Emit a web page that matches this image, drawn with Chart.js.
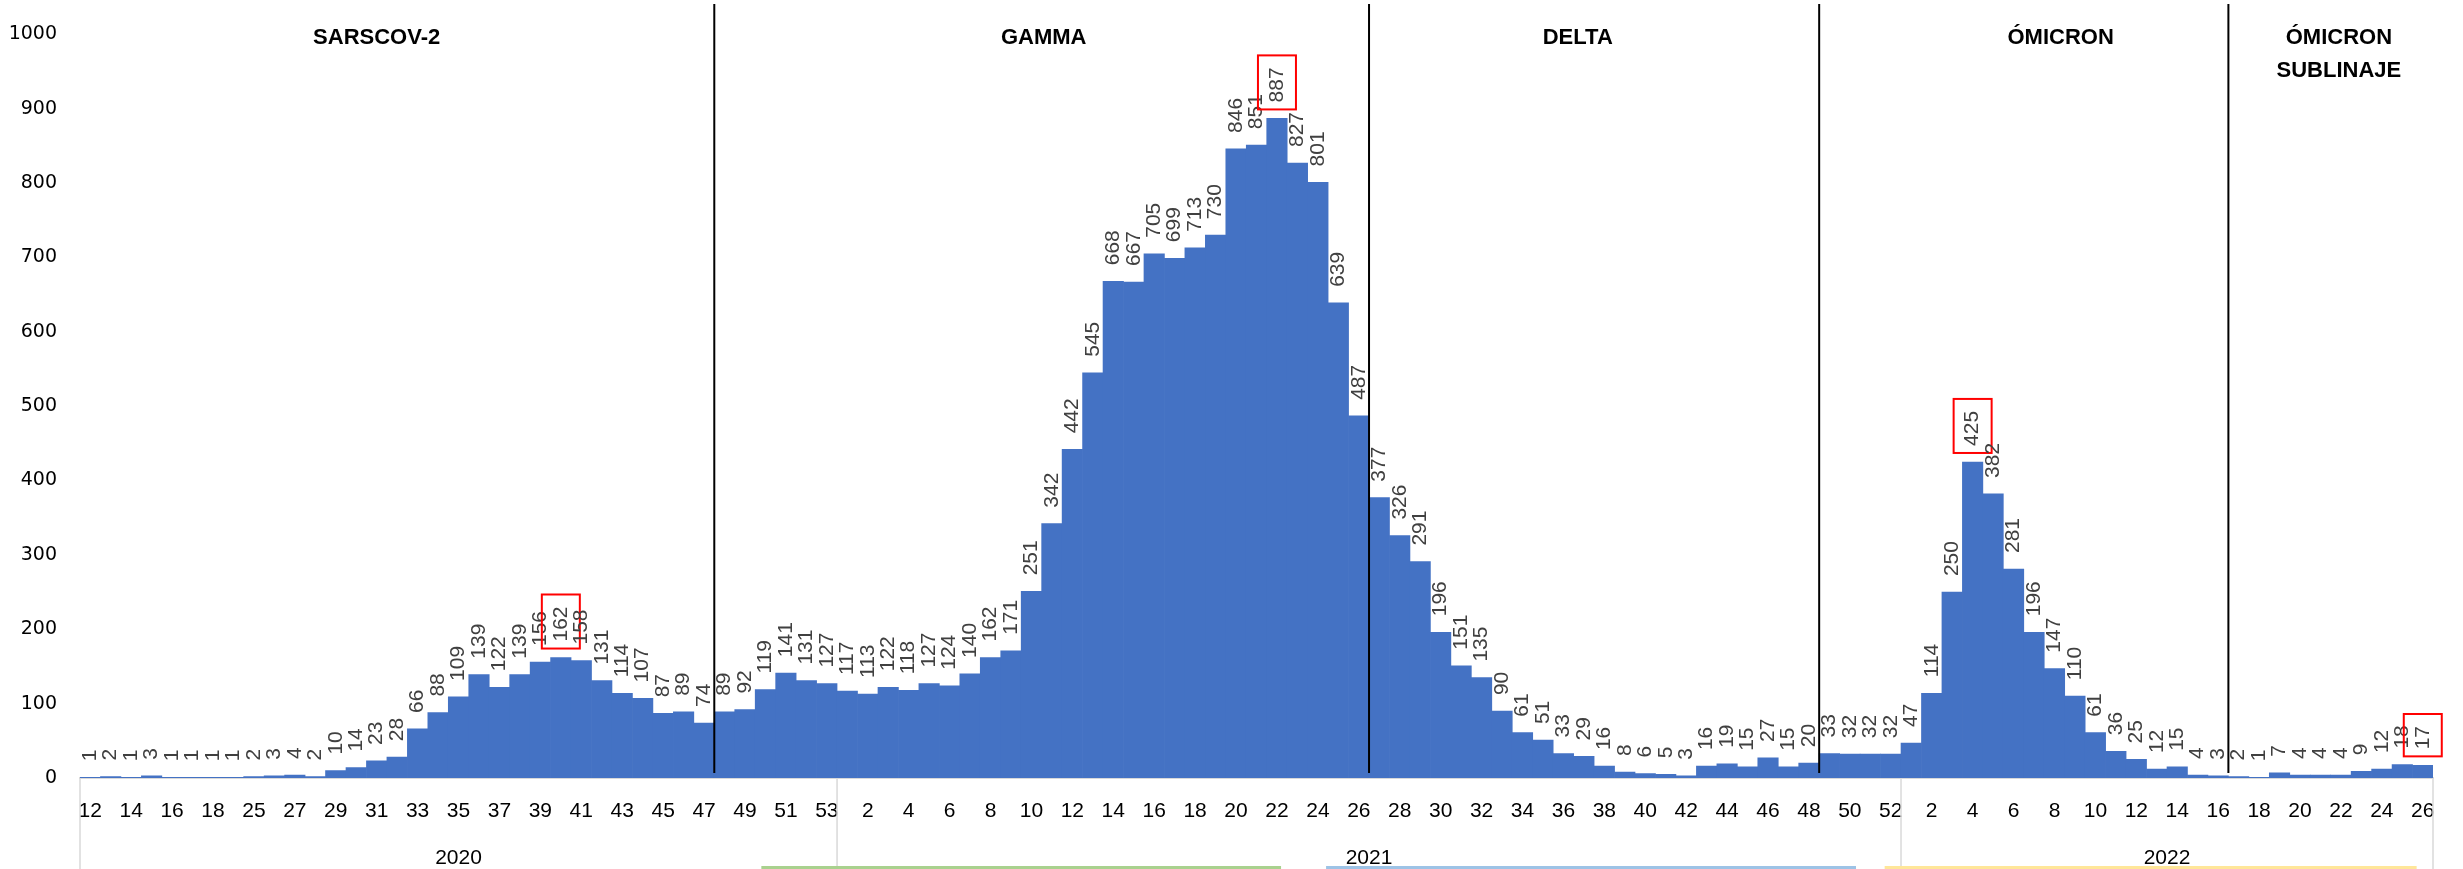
<!DOCTYPE html>
<html>
<head>
<meta charset="utf-8">
<script src="https://cdn.jsdelivr.net/npm/chart.js@4.4.1/dist/chart.umd.min.js"></script>
<style>
  html, body { margin: 0; padding: 0; background: #fff; }
  canvas { display: block; }
</style>
</head>
<body>
<canvas id="myChart" width="2463" height="869"></canvas>
<script>
// Epidemiological weeks per year (week 24 of 2020 follows week 18 in the source)
const weeks2020 = [12, 13, 14, 15, 16, 17, 18, 24, 25, 26, 27, 28, 29, 30, 31, 32, 33, 34, 35, 36, 37, 38, 39, 40, 41, 42, 43, 44, 45, 46, 47, 48, 49, 50, 51, 52, 53];
const weeks2021 = [1, 2, 3, 4, 5, 6, 7, 8, 9, 10, 11, 12, 13, 14, 15, 16, 17, 18, 19, 20, 21, 22, 23, 24, 25, 26, 27, 28, 29, 30, 31, 32, 33, 34, 35, 36, 37, 38, 39, 40, 41, 42, 43, 44, 45, 46, 47, 48, 49, 50, 51, 52];
const weeks2022 = [1, 2, 3, 4, 5, 6, 7, 8, 9, 10, 11, 12, 13, 14, 15, 16, 17, 18, 19, 20, 21, 22, 23, 24, 25, 26];

// Cases per week
const cases2020 = [1, 2, 1, 3, 1, 1, 1, 1, 2, 3, 4, 2, 10, 14, 23, 28, 66, 88, 109, 139, 122, 139, 156, 162, 158, 131, 114, 107, 87, 89, 74, 89, 92, 119, 141, 131, 127];
const cases2021 = [117, 113, 122, 118, 127, 124, 140, 162, 171, 251, 342, 442, 545, 668, 667, 705, 699, 713, 730, 846, 851, 887, 827, 801, 639, 487, 377, 326, 291, 196, 151, 135, 90, 61, 51, 33, 29, 16, 8, 6, 5, 3, 16, 19, 15, 27, 15, 20, 33, 32, 32, 32];
const cases2022 = [47, 114, 250, 425, 382, 281, 196, 147, 110, 61, 36, 25, 12, 15, 4, 3, 2, 1, 7, 4, 4, 4, 9, 12, 18, 17];

const years = ['2020', '2021', '2022'];
const yTicks = [0, 100, 200, 300, 400, 500, 600, 700, 800, 900, 1000];

// Variant periods: the line is drawn after the given year-week
const variantNames = [['SARSCOV-2'], ['GAMMA'], ['DELTA'], ['ÓMICRON'], ['ÓMICRON', 'SUBLINAJE']];
const variantEnds = ['2020-47', '2021-26', '2021-48', '2022-16'];
// Weeks whose label is boxed in red
const boxedWeeks = ['2020-40', '2021-22', '2022-4', '2022-26'];

// Layout helpers (in category units from the left edge of the plot)
const titleAnchors = [14.5, 47.1, 73.2, 96.8, 110.4];
const bottomStrips = [
    { from: 33.3, to: 58.7, color: '#a9d18e' },
    { from: 60.9, to: 86.8, color: '#9dc3e6' },
    { from: 88.2, to: 114.2, color: '#ffe699' }
];

// Build flat arrays for the chart
const weekLabels = [...weeks2020, ...weeks2021, ...weeks2022].map(String);
const weekYears = [
    ...weeks2020.map(() => '2020'),
    ...weeks2021.map(() => '2021'),
    ...weeks2022.map(() => '2022')
];
const allCases = [...cases2020, ...cases2021, ...cases2022];
const keyOf = i => weekYears[i] + '-' + weekLabels[i];

const overlayPlugin = {
    id: 'overlay',
    afterDatasetsDraw(chart) {
        const ctx = chart.ctx;
        const area = chart.chartArea;
        const bars = chart.getDatasetMeta(0).data;
        const step = bars[1].x - bars[0].x;
        const leftEdge = bars[0].x - step / 2;

        // value labels, rotated
        ctx.save();
        ctx.font = '21px "Liberation Sans", Arial, sans-serif';
        ctx.textBaseline = 'middle';
        ctx.textAlign = 'left';
        bars.forEach((bar, i) => {
            const txt = String(allCases[i]);
            const start = bar.y - 16;
            ctx.save();
            ctx.translate(bar.x, start);
            ctx.rotate(-Math.PI / 2);
            ctx.fillStyle = '#404040';
            ctx.fillText(txt, 0, 0);
            ctx.restore();

            if (boxedWeeks.includes(keyOf(i))) {
                const w = ctx.measureText(txt).width;
                ctx.strokeStyle = '#ff0000';
                ctx.lineWidth = 2;
                ctx.strokeRect(bar.x - 19, start - w - 12, 38, w + 19);
            }
        });
        ctx.restore();

        // variant separators
        ctx.save();
        ctx.strokeStyle = '#000';
        ctx.lineWidth = 2;
        variantEnds.forEach(key => {
            const i = weekLabels.findIndex((w, idx) => keyOf(idx) === key);
            const x = (bars[i].x + bars[i + 1].x) / 2;
            ctx.beginPath();
            ctx.moveTo(x, 4);
            ctx.lineTo(x, area.bottom - 5);
            ctx.stroke();
        });
        ctx.restore();

        // variant titles
        ctx.save();
        ctx.font = 'bold 22px "Liberation Sans", Arial, sans-serif';
        ctx.fillStyle = '#000';
        ctx.textAlign = 'center';
        ctx.textBaseline = 'middle';
        variantNames.forEach((lines, k) => {
            const x = leftEdge + titleAnchors[k] * step;
            lines.forEach((line, j) => ctx.fillText(line, x, 38 + j * 33));
        });
        ctx.restore();

        // year boxes under the week labels
        ctx.save();
        const H = chart.height;
        const edges = [0];
        years.forEach(y => edges.push(weekYears.lastIndexOf(y) + 1));
        ctx.strokeStyle = '#d9d9d9';
        ctx.lineWidth = 1.5;
        edges.forEach(e => {
            const x = leftEdge + e * step;
            ctx.beginPath();
            ctx.moveTo(x, area.bottom);
            ctx.lineTo(x, H);
            ctx.stroke();
        });
        ctx.font = '21px "Liberation Sans", Arial, sans-serif';
        ctx.fillStyle = '#000';
        ctx.textAlign = 'center';
        ctx.textBaseline = 'middle';
        years.forEach((y, k) => {
            const x = leftEdge + (edges[k] + edges[k + 1]) / 2 * step;
            ctx.fillText(y, x, 858);
        });

        // coloured strips along the bottom edge
        ctx.lineWidth = 3;
        bottomStrips.forEach(s => {
            ctx.strokeStyle = s.color;
            ctx.beginPath();
            ctx.moveTo(leftEdge + s.from * step, H - 1.5);
            ctx.lineTo(leftEdge + s.to * step, H - 1.5);
            ctx.stroke();
        });
        ctx.restore();
    }
};

const ctx = document.getElementById('myChart').getContext('2d');
const myChart = new Chart(ctx, {
    type: 'bar',
    data: {
        labels: weekLabels,
        datasets: [{
            label: 'Casos',
            data: allCases,
            backgroundColor: '#4472c4',
            borderWidth: 0,
            barPercentage: 1,
            categoryPercentage: 1
        }]
    },
    options: {
        responsive: false,
        animation: false,
        layout: {
            padding: { top: 31, right: 30, left: 0, bottom: 0 }
        },
        scales: {
            x: {
                grid: { display: false, drawTicks: false },
                border: { display: true, color: '#d9d9d9', width: 2 },
                afterFit: scale => { scale.height = 91; },
                ticks: {
                    autoSkip: false,
                    maxRotation: 0,
                    minRotation: 0,
                    padding: 21,
                    color: '#000',
                    font: { family: '"Liberation Sans", Arial, sans-serif', size: 21 },
                    callback: function(val, idx) {
                        return idx % 2 === 0 ? this.getLabelForValue(val) : '';
                    }
                }
            },
            y: {
                min: yTicks[0],
                max: yTicks[yTicks.length - 1],
                grid: { display: false, drawTicks: false },
                border: { display: false },
                afterFit: scale => { scale.width = 80; },
                afterBuildTicks: scale => { scale.ticks = yTicks.map(v => ({ value: v })); },
                ticks: {
                    padding: 23,
                    color: '#000',
                    font: { family: '"DejaVu Sans", sans-serif', size: 19 },
                    callback: value => String(value)
                }
            }
        },
        plugins: {
            legend: { display: false },
            tooltip: { enabled: false }
        }
    },
    plugins: [overlayPlugin]
});
</script>
</body>
</html>
